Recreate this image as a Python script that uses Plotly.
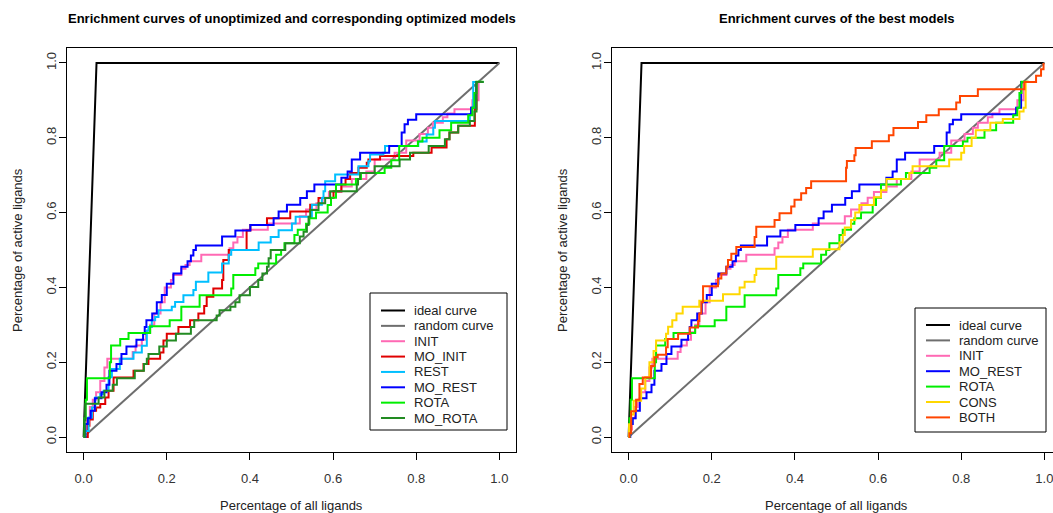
import plotly.graph_objects as go

W, H = 1053, 513
FONT = "Liberation Sans, Arial, sans-serif"

# ---------------- data ----------------
TICKS = [0.0, 0.2, 0.4, 0.6, 0.8, 1.0]
TICK_TEXT = ["0.0", "0.2", "0.4", "0.6", "0.8", "1.0"]

IDEAL = [(0, 0), (0.031, 1), (1, 1)]
RANDOM = [(0, 0), (1, 1)]

INIT = [(0, 0), (0.003, 0.02), (0.008, 0.05), (0.015, 0.08), (0.022, 0.1), (0.03, 0.12), (0.04, 0.15),
        (0.05, 0.186), (0.057, 0.209), (0.118, 0.227), (0.125, 0.245), (0.14, 0.26), (0.15, 0.28),
        (0.16, 0.3), (0.17, 0.33), (0.185, 0.36), (0.195, 0.4), (0.21, 0.42), (0.215, 0.433),
        (0.235, 0.45), (0.245, 0.46), (0.255, 0.47), (0.283, 0.487), (0.351, 0.505), (0.36, 0.52),
        (0.37, 0.535), (0.383, 0.554), (0.443, 0.571), (0.52, 0.59), (0.535, 0.608), (0.56, 0.625),
        (0.575, 0.64), (0.59, 0.655), (0.62, 0.67), (0.645, 0.69), (0.68, 0.71), (0.7, 0.742),
        (0.748, 0.76), (0.776, 0.793), (0.808, 0.81), (0.828, 0.827), (0.84, 0.84), (0.864, 0.855),
        (0.875, 0.865), (0.892, 0.876), (0.935, 0.9), (0.95, 0.949), (0.96, 0.949)]

MO_INIT = [(0, 0), (0.01, 0.03), (0.014, 0.047), (0.022, 0.07), (0.03, 0.079), (0.04, 0.088),
           (0.052, 0.106), (0.06, 0.124), (0.072, 0.159), (0.12, 0.177), (0.144, 0.195), (0.156, 0.209),
           (0.184, 0.226), (0.192, 0.258), (0.2, 0.276), (0.228, 0.294), (0.256, 0.312), (0.276, 0.33),
           (0.29, 0.35), (0.296, 0.375), (0.312, 0.397), (0.333, 0.42), (0.336, 0.473), (0.349, 0.5),
           (0.392, 0.552), (0.401, 0.567), (0.441, 0.585), (0.497, 0.603), (0.545, 0.621), (0.565, 0.639),
           (0.601, 0.657), (0.62, 0.675), (0.63, 0.69), (0.641, 0.706), (0.661, 0.72), (0.681, 0.733),
           (0.685, 0.742), (0.713, 0.751), (0.793, 0.76), (0.837, 0.774), (0.873, 0.796), (0.88, 0.814),
           (0.901, 0.832), (0.941, 0.876), (0.945, 0.949), (0.962, 0.949)]

REST = [(0, 0), (0.004, 0.016), (0.012, 0.052), (0.02, 0.079), (0.028, 0.106), (0.04, 0.115),
        (0.048, 0.124), (0.06, 0.16), (0.068, 0.182), (0.087, 0.209), (0.12, 0.226), (0.14, 0.244),
        (0.152, 0.285), (0.156, 0.294), (0.164, 0.312), (0.172, 0.321), (0.18, 0.339), (0.212, 0.348),
        (0.22, 0.361), (0.24, 0.379), (0.264, 0.393), (0.27, 0.415), (0.3, 0.44), (0.333, 0.464),
        (0.349, 0.487), (0.355, 0.5), (0.421, 0.52), (0.45, 0.535), (0.469, 0.553), (0.501, 0.571),
        (0.51, 0.589), (0.549, 0.621), (0.573, 0.639), (0.577, 0.657), (0.581, 0.684), (0.605, 0.702),
        (0.661, 0.724), (0.685, 0.737), (0.689, 0.755), (0.721, 0.76), (0.725, 0.778), (0.805, 0.79),
        (0.825, 0.809), (0.841, 0.827), (0.845, 0.845), (0.929, 0.863), (0.933, 0.881), (0.937, 0.949),
        (0.962, 0.949)]

MO_REST = [(0, 0), (0.004, 0.035), (0.01, 0.05), (0.017, 0.07), (0.027, 0.104), (0.043, 0.12),
           (0.055, 0.14), (0.062, 0.177), (0.079, 0.195), (0.091, 0.222), (0.103, 0.242), (0.127, 0.26),
           (0.143, 0.276), (0.147, 0.294), (0.151, 0.312), (0.165, 0.33), (0.176, 0.36), (0.188, 0.38),
           (0.2, 0.41), (0.216, 0.437), (0.235, 0.455), (0.25, 0.47), (0.258, 0.485), (0.264, 0.5),
           (0.27, 0.512), (0.333, 0.536), (0.365, 0.552), (0.401, 0.567), (0.457, 0.585), (0.469, 0.603),
           (0.489, 0.621), (0.521, 0.639), (0.537, 0.657), (0.555, 0.675), (0.62, 0.693), (0.635, 0.71),
           (0.645, 0.742), (0.665, 0.76), (0.735, 0.778), (0.765, 0.814), (0.772, 0.836), (0.78, 0.848),
           (0.8, 0.863), (0.932, 0.88), (0.944, 0.949), (0.957, 0.949)]

ROTA = [(0, 0), (0.002, 0.05), (0.005, 0.1), (0.008, 0.157), (0.063, 0.2), (0.066, 0.245),
        (0.088, 0.262), (0.108, 0.278), (0.16, 0.296), (0.207, 0.312), (0.235, 0.348), (0.279, 0.379),
        (0.355, 0.397), (0.36, 0.433), (0.413, 0.451), (0.42, 0.464), (0.463, 0.487), (0.475, 0.5),
        (0.483, 0.518), (0.507, 0.54), (0.515, 0.554), (0.535, 0.57), (0.543, 0.585), (0.559, 0.6),
        (0.587, 0.62), (0.595, 0.64), (0.607, 0.675), (0.655, 0.69), (0.667, 0.706), (0.724, 0.72),
        (0.74, 0.74), (0.759, 0.778), (0.804, 0.79), (0.815, 0.8), (0.856, 0.82), (0.884, 0.84),
        (0.925, 0.86), (0.935, 0.88), (0.94, 0.92), (0.945, 0.95), (0.962, 0.95)]

MO_ROTA = [(0, 0), (0.002, 0.045), (0.004, 0.089), (0.036, 0.106), (0.05, 0.124), (0.07, 0.14),
           (0.08, 0.157), (0.123, 0.177), (0.145, 0.195), (0.152, 0.209), (0.156, 0.222), (0.182, 0.242),
           (0.2, 0.258), (0.222, 0.276), (0.258, 0.294), (0.266, 0.312), (0.32, 0.325), (0.327, 0.339),
           (0.353, 0.348), (0.365, 0.36), (0.375, 0.379), (0.4, 0.401), (0.42, 0.42), (0.43, 0.437),
           (0.441, 0.455), (0.445, 0.478), (0.45, 0.5), (0.485, 0.518), (0.52, 0.536), (0.529, 0.549),
           (0.537, 0.567), (0.541, 0.589), (0.545, 0.607), (0.565, 0.625), (0.581, 0.639), (0.593, 0.657),
           (0.657, 0.675), (0.66, 0.69), (0.665, 0.706), (0.7, 0.724), (0.76, 0.742), (0.785, 0.76),
           (0.83, 0.778), (0.869, 0.796), (0.88, 0.814), (0.901, 0.832), (0.929, 0.845), (0.94, 0.87),
           (0.945, 0.949), (0.962, 0.949)]

CONS = [(0, 0), (0.001, 0.034), (0.006, 0.06), (0.012, 0.097), (0.03, 0.13), (0.04, 0.16), (0.05, 0.2),
        (0.06, 0.23), (0.066, 0.258), (0.09, 0.276), (0.095, 0.295), (0.105, 0.312), (0.115, 0.33),
        (0.13, 0.348), (0.17, 0.364), (0.227, 0.382), (0.267, 0.4), (0.279, 0.415), (0.303, 0.433),
        (0.307, 0.45), (0.355, 0.482), (0.443, 0.502), (0.507, 0.52), (0.515, 0.54), (0.52, 0.56),
        (0.535, 0.58), (0.545, 0.6), (0.555, 0.62), (0.59, 0.641), (0.607, 0.66), (0.62, 0.69),
        (0.675, 0.706), (0.683, 0.724), (0.771, 0.742), (0.8, 0.76), (0.807, 0.778), (0.825, 0.8),
        (0.835, 0.82), (0.87, 0.84), (0.9, 0.85), (0.94, 0.87), (0.95, 0.88), (0.955, 0.95), (0.962, 0.95)]

BOTH = [(0, 0), (0.002, 0.01), (0.006, 0.069), (0.018, 0.1), (0.026, 0.142), (0.034, 0.159),
        (0.054, 0.19), (0.062, 0.213), (0.07, 0.22), (0.09, 0.24), (0.094, 0.262), (0.119, 0.276),
        (0.147, 0.293), (0.167, 0.31), (0.17, 0.33), (0.175, 0.36), (0.179, 0.403), (0.215, 0.424),
        (0.223, 0.437), (0.235, 0.455), (0.239, 0.473), (0.247, 0.49), (0.259, 0.508), (0.303, 0.535),
        (0.307, 0.562), (0.351, 0.58), (0.363, 0.598), (0.391, 0.616), (0.399, 0.634), (0.415, 0.652),
        (0.427, 0.666), (0.439, 0.684), (0.523, 0.72), (0.525, 0.738), (0.543, 0.753), (0.546, 0.773),
        (0.585, 0.791), (0.626, 0.807), (0.637, 0.826), (0.696, 0.842), (0.716, 0.86), (0.746, 0.876),
        (0.788, 0.894), (0.797, 0.912), (0.84, 0.93), (0.952, 0.949), (0.98, 0.966), (0.992, 0.983),
        (0.998, 1.0)]

COLORS = {
    "ideal curve": "#000000", "random curve": "#6e6e6e", "INIT": "#ff69b4", "MO_INIT": "#e00000",
    "REST": "#00bfff", "MO_REST": "#0000ff", "ROTA": "#00ee00", "MO_ROTA": "#228b22",
    "CONS": "#ffd700", "BOTH": "#ff4500",
}

LEFT_SERIES = [("ideal curve", IDEAL), ("random curve", RANDOM), ("INIT", INIT), ("MO_INIT", MO_INIT),
               ("REST", REST), ("MO_REST", MO_REST), ("ROTA", ROTA), ("MO_ROTA", MO_ROTA)]
RIGHT_SERIES = [("ideal curve", IDEAL), ("random curve", RANDOM), ("INIT", INIT), ("MO_REST", MO_REST),
                ("ROTA", ROTA), ("CONS", CONS), ("BOTH", BOTH)]

TITLE_LEFT = "Enrichment curves of unoptimized and corresponding optimized models"
TITLE_RIGHT = "Enrichment curves of the best models"
XLABEL = "Percentage of all ligands"
YLABEL = "Percentage of active ligands"

# ---------------- layout geometry (pixels) ----------------
LBOX = (67, 516)
RBOX = (612, 1061)
YBOX = (48, 452)   # top, bottom


def px(x):
    return x / W


def py(y):
    return 1 - y / H


fig = go.Figure()


def add_series(series, xa, ya):
    for name, pts in series:
        xs, ys = zip(*pts)
        shape = "linear" if name in ("ideal curve", "random curve") else "hv"
        fig.add_trace(go.Scatter(x=xs, y=ys, mode="lines", name=name, xaxis=xa, yaxis=ya,
                                 line=dict(color=COLORS[name], width=2, shape=shape),
                                 showlegend=False, hoverinfo="skip"))


add_series(LEFT_SERIES, "x", "y")
add_series(RIGHT_SERIES, "x2", "y2")

ax_common = dict(range=[-0.04, 1.04], tickvals=TICKS, ticktext=TICK_TEXT, ticks="outside", ticklen=7,
                 tickwidth=1, tickcolor="black", showline=True, linecolor="black", linewidth=1,
                 showgrid=False, zeroline=False, ticklabeloverflow="allow",
                 tickfont=dict(family=FONT, size=13, color="#333"))

right_end = -0.04 + (W - RBOX[0]) / (LBOX[1] - LBOX[0]) * 1.08

fig.update_layout(
    width=W, height=H, margin=dict(l=0, r=0, t=0, b=0), paper_bgcolor="white", plot_bgcolor="white",
    showlegend=False,
    xaxis=dict(ax_common, domain=[px(LBOX[0]), px(LBOX[1])], mirror=True, anchor="y", ticklabelstandoff=7),
    yaxis=dict(ax_common, domain=[py(YBOX[1]), py(YBOX[0])], mirror=True, anchor="x", tickangle=-90,
               ticklabelstandoff=-2),
    xaxis2=dict(ax_common, domain=[px(RBOX[0]), 1.0], mirror=True, anchor="y2", ticklabelstandoff=7),
    yaxis2=dict(ax_common, domain=[py(YBOX[1]), py(YBOX[0])], mirror=False, anchor="x2", tickangle=-90,
                ticklabelstandoff=-2),
)
fig.layout.xaxis2.range = [-0.04, right_end]

annotations = []
shapes = []

# titles
for text, box in ((TITLE_LEFT, LBOX), (TITLE_RIGHT, RBOX)):
    cx = (box[0] + box[1]) / 2
    annotations.append(dict(text="<b>" + text + "</b>", x=px(cx), y=py(18), xref="paper", yref="paper",
                            xanchor="center", yanchor="middle", showarrow=False,
                            font=dict(family=FONT, size=13, color="black")))
    annotations.append(dict(text=XLABEL, x=px(cx), y=py(505), xref="paper", yref="paper",
                            xanchor="center", yanchor="middle", showarrow=False,
                            font=dict(family=FONT, size=13, color="#222")))

for xpos in (17, 562):
    annotations.append(dict(text=YLABEL, x=px(xpos), y=py((YBOX[0] + YBOX[1]) / 2), xref="paper", yref="paper",
                            xanchor="center", yanchor="middle", showarrow=False, textangle=-90,
                            font=dict(family=FONT, size=13, color="#222")))


def add_legend(series, box, line_x, text_x, first_row, step):
    x0, y0, x1, y1 = box
    shapes.append(dict(type="rect", xref="paper", yref="paper", x0=px(x0), x1=px(x1), y0=py(y0), y1=py(y1),
                       line=dict(color="black", width=1), fillcolor="white", layer="above"))
    for i, (name, _) in enumerate(series):
        yy = first_row + i * step
        shapes.append(dict(type="line", xref="paper", yref="paper", x0=px(line_x[0]), x1=px(line_x[1]),
                           y0=py(yy), y1=py(yy), line=dict(color=COLORS[name], width=2), layer="above"))
        annotations.append(dict(text=name, x=px(text_x), y=py(yy), xref="paper", yref="paper",
                                xanchor="left", yanchor="middle", showarrow=False,
                                font=dict(family=FONT, size=13, color="#222")))


add_legend(LEFT_SERIES, (370, 293, 507, 430), (381, 405), 412, 310.5, 15.36)
add_legend(RIGHT_SERIES, (915, 308, 1046, 432), (926, 950), 957, 325, 15.4)

fig.update_layout(annotations=annotations, shapes=shapes)
fig.write_html("out.html")
